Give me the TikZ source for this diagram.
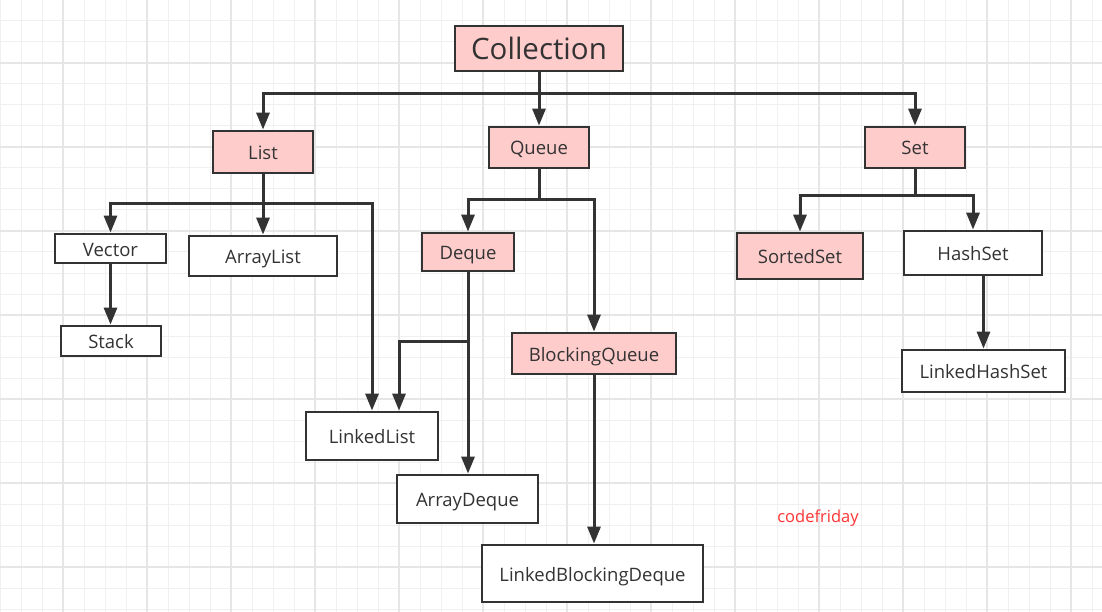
\documentclass[tikz,border=0pt]{standalone}
\usepackage{fontspec}
\setmainfont{Open Sans}
\usetikzlibrary{arrows.meta,calc}
\definecolor{ink}{HTML}{333333}
\definecolor{pinkfill}{HTML}{FFCCCC}
\definecolor{gridminor}{HTML}{F0F0F0}
\definecolor{gridmajor}{HTML}{E6E6E6}
\definecolor{wmred}{HTML}{FF3333}
\begin{document}
\begin{tikzpicture}[x=1pt,y=-1pt,
  box/.style={draw=ink,line width=2.8pt,fill=white,text=ink,inner sep=0pt,
    text height=16pt,text depth=1pt,
    font=\fontsize{18.5}{20}\selectfont},
  pbox/.style={box,fill=pinkfill},
  arr/.style={draw=ink,line width=3pt,-{Triangle[length=17pt,width=13pt]}},
  ln/.style={draw=ink,line width=3pt}]
\useasboundingbox (0,0) rectangle (1102,612);
\fill[white] (0,0) rectangle (1102,612);
% grid
\foreach \i in {0,...,52} {\draw[gridminor,line width=1pt] (\i*21,0) -- (\i*21,612);}
\foreach \i in {0,...,29} {\draw[gridminor,line width=1pt] (0,\i*21) -- (1102,\i*21);}
\foreach \i in {0,...,12} {\draw[gridmajor,line width=1.2pt] (63+\i*84,0) -- (63+\i*84,612);}
\foreach \i in {0,...,6} {\draw[gridmajor,line width=1.2pt] (0,63+\i*84) -- (1102,63+\i*84);}
% nodes
\node[pbox,minimum width=168,minimum height=45,text height=24pt,text depth=2pt,font=\fontsize{29.5}{32}\selectfont] (collection) at (539,48.5) {Collection};
\node[pbox,minimum width=100,minimum height=42] (list) at (263,152) {List};
\node[pbox,minimum width=100,minimum height=41] (queue) at (539,147.5) {Queue};
\node[pbox,minimum width=100,minimum height=41] (set) at (915,147.5) {Set};
\node[box,minimum width=111,minimum height=29] (vector) at (110.5,248.5) {Vector};
\node[box,minimum width=148,minimum height=40] (arraylist) at (263,256) {ArrayList};
\node[box,minimum width=100,minimum height=30] (stack) at (111,341) {Stack};
\node[pbox,minimum width=92,minimum height=38] (deque) at (468,252) {Deque};
\node[pbox,minimum width=164,minimum height=41] (bq) at (594,353.5) {BlockingQueue};
\node[box,minimum width=132,minimum height=48] (linkedlist) at (372,436) {LinkedList};
\node[box,minimum width=141,minimum height=48] (arraydeque) at (467.5,499) {ArrayDeque};
\node[box,minimum width=221,minimum height=57] (lbd) at (592.5,573.5) {LinkedBlockingDeque};
\node[pbox,minimum width=126,minimum height=46] (sortedset) at (800,256) {SortedSet};
\node[box,minimum width=138,minimum height=44] (hashset) at (973,253) {HashSet};
\node[box,minimum width=163,minimum height=42] (lhs) at (983.5,371) {LinkedHashSet};
\node[text=wmred,inner sep=0pt,anchor=base,font=\fontsize{16.5}{18}\selectfont] (wm) at (818,522) {codefriday};
% junctions
\coordinate (cb) at (539,94);
\coordinate (lb) at (263,204);
\coordinate (qb) at (539,200);
\coordinate (db) at (468,341);
\coordinate (sb) at (915,196);
% connectors
\draw[arr] (collection.south) -- (queue.north);
\draw[arr] (cb) -| (list.north);
\draw[arr] (cb) -| (set.north);
\draw[arr] (list.south) -- (arraylist.north);
\draw[arr] (lb) -| (vector.north);
\draw[arr] (lb) -| (linkedlist.north);
\draw[arr] (vector.south) -- (vector.south |- stack.north);
\draw[ln] (queue.south) -- (qb);
\draw[arr] (qb) -| (deque.north);
\draw[arr] (qb) -| (bq.north);
\draw[arr] (deque.south) -- (deque.south |- arraydeque.north);
\draw[arr] (db) -| ($(linkedlist.north)+(27,0)$);
\draw[arr] (bq.south) -- (bq.south |- lbd.north);
\draw[ln] (set.south) -- (sb);
\draw[arr] (sb) -| (sortedset.north);
\draw[arr] (sb) -| (hashset.north);
\draw[arr] (hashset.south -| lhs.north) -- (lhs.north);
\end{tikzpicture}
\end{document}
